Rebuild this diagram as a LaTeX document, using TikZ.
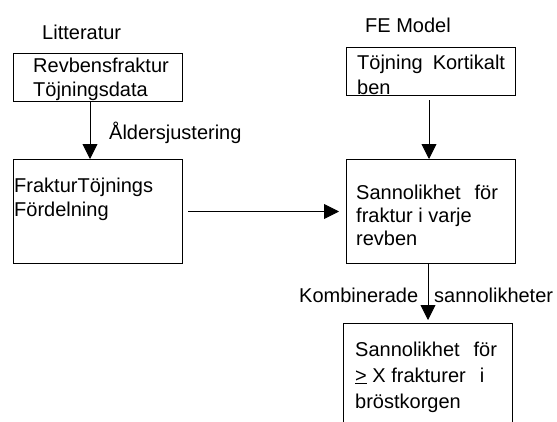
\documentclass[tikz,border=0pt]{standalone}
\usepackage{fontspec}
\setmainfont{Liberation Sans}
\usetikzlibrary{positioning,arrows.meta}

\tikzset{
  box/.style={draw, line width=1pt, inner sep=0pt, anchor=north west, minimum width=169pt},
  txt/.style={font=\fontsize{20}{#1}\selectfont, align=left, anchor=north west, inner sep=0pt},
  txt/.default=24,
  lbl/.style={font=\fontsize{20}{24}\selectfont, anchor=base west, inner sep=0pt},
  arr/.style={-{Triangle[length=15pt,width=15pt]}, line width=0.9pt}
}

\begin{document}
\begin{tikzpicture}[x=1pt,y=-1pt]
\useasboundingbox (0,0) rectangle (557,421);
\clip (0,0) rectangle (557,421);
% boxes
\node[box, minimum height=48pt] (lit) at (13,53) {};
\node[box, minimum height=104pt] (frdist) at (13,159) {};
\node[box, minimum height=48pt] (fem) at (346,47) {};
\node[box, minimum height=104pt] (prob) at (346,159) {};
\node[box, minimum height=110pt] (total) at (343,323) {};
% box texts
\node[txt] (littxt) at (33,58) {Revbensfraktur\\Töjningsdata};
\node[txt] (frtxt) at (14,177.5) {FrakturTöjnings\\Fördelning};
\node[txt=25] (femtxt) at (357,54.5) {Töjning\hspace{0.5em}Kortikalt\\ben};
\node[txt=23] (probtxt) at (356,184.5) {Sannolikhet\hspace{0.7em}för\\fraktur i varje\\revben};
\node[txt=26] (totaltxt) at (355,341.5) {Sannolikhet\hspace{0.7em}för\\\underline{>} X frakturer\hspace{0.7em}i\\bröstkorgen};
% labels
\node[lbl] (litlbl) at (42,39) {Litteratur};
\node[lbl] (felbl) at (365,32) {FE Model};
\node[lbl] (agelbl) at (109,139) {Åldersjustering};
\node[lbl] (comblbl) at (299,302) {Kombinerade\hspace{16pt}sannolikheter};
% connectors
\draw[arr] ([xshift=-8pt]lit.south) -- ([xshift=-8pt]frdist.north);
\draw[arr, shorten <=4pt] ([xshift=-2pt]fem.south) -- ([xshift=-2pt]prob.north);
\draw[arr, shorten <=5pt, shorten >=7pt] (frdist.east) -- (prob.west);
\draw[arr, shorten >=3pt] (prob.south -| total.north) -- (total.north);
\end{tikzpicture}
\end{document}
